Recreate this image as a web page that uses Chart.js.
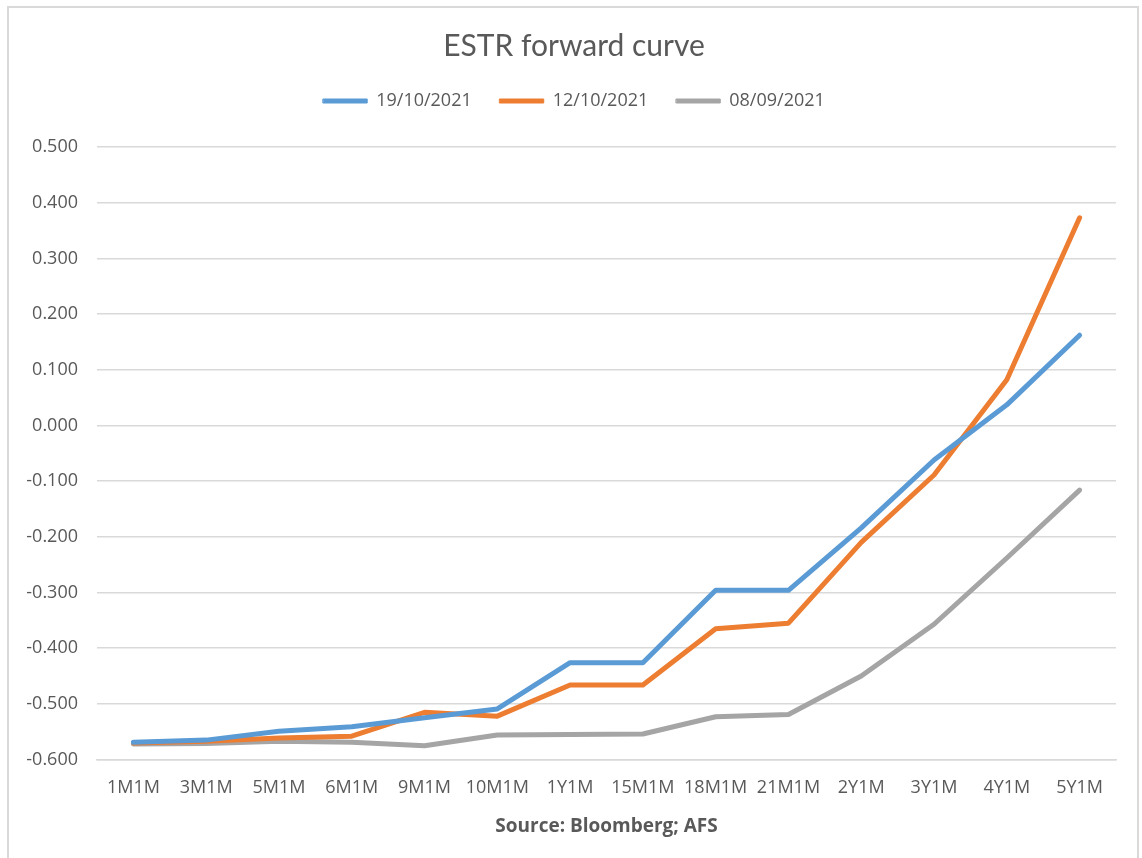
<!DOCTYPE html>
<html>
<head>
<meta charset="utf-8">
<script src="https://cdn.jsdelivr.net/npm/chart.js@4.4.1/dist/chart.umd.min.js"></script>
<style>
  html, body { margin: 0; padding: 0; background: #ffffff; }
  #wrap { position: relative; width: 1142px; height: 858px; }
  #frame { position: absolute; left: 7px; top: 6px; width: 1132px; height: 860px;
           border: 2px solid #d9d9d9; box-sizing: border-box; pointer-events: none; }
  canvas { position: absolute; left: 0; top: 0; }
</style>
</head>
<body>
<div id="wrap">
  <canvas id="c" width="1142" height="858"></canvas>
  <div id="frame"></div>
</div>
<script>
const categories = ["1M1M","3M1M","5M1M","6M1M","9M1M","10M1M","1Y1M","15M1M","18M1M","21M1M","2Y1M","3Y1M","4Y1M","5Y1M"];
const seriesNames = ["19/10/2021","12/10/2021","08/09/2021"];
const s19Oct = [-0.569,-0.565,-0.549,-0.541,-0.525,-0.509,-0.426,-0.426,-0.296,-0.296,-0.184,-0.062,0.037,0.162];
const s12Oct = [-0.570,-0.567,-0.561,-0.558,-0.515,-0.522,-0.466,-0.466,-0.365,-0.355,-0.210,-0.089,0.082,0.373];
const s08Sep = [-0.572,-0.571,-0.567,-0.569,-0.575,-0.556,-0.555,-0.554,-0.523,-0.519,-0.450,-0.357,-0.238,-0.116];
const yTicks = { min: -0.6, max: 0.5, step: 0.1 };
const colors = ["#5B9BD5","#ED7D31","#A5A5A5"];
const titleText = "ESTR forward curve";
const sourceText = "Source: Bloomberg; AFS";

const mk = (label, data, color) => ({
  label, data, borderColor: color, backgroundColor: color,
  borderWidth: 5, pointRadius: 0, pointHoverRadius: 0, tension: 0,
  borderCapStyle: 'round', borderJoinStyle: 'round', fill: false
});

const legendGap = {
  id: 'legendGap',
  beforeInit(chart) {
    const lg = chart.legend;
    if (!lg) return;
    const orig = lg.fit;
    lg.fit = function () { orig.call(this); this.height += 27; };
  }
};

new Chart(document.getElementById('c'), {
  type: 'line',
  data: {
    labels: categories,
    datasets: [
      mk(seriesNames[0], s19Oct, colors[0]),
      mk(seriesNames[1], s12Oct, colors[1]),
      mk(seriesNames[2], s08Sep, colors[2])
    ]
  },
  plugins: [legendGap],
  options: {
    responsive: false,
    animation: false,
    devicePixelRatio: 1,
    layout: { padding: { left: 6, right: 0, top: 0, bottom: 0 } },
    plugins: {
      title: {
        display: true, text: titleText, color: '#595959',
        font: { family: 'Lato', size: 30, weight: 'normal' },
        padding: { top: 28, bottom: 0 }
      },
      legend: {
        display: true, position: 'top',
        labels: {
          color: '#595959',
          font: { family: 'Open Sans', size: 18 },
          boxWidth: 44, boxHeight: 4, padding: 28,
          generateLabels(chart) {
            return chart.data.datasets.map((ds, i) => ({
              text: ds.label, fillStyle: ds.borderColor, strokeStyle: ds.borderColor,
              lineWidth: 1, lineCap: 'round', hidden: false, datasetIndex: i, fontColor: '#595959'
            }));
          }
        }
      },
      tooltip: { enabled: false }
    },
    scales: {
      x: {
        offset: true,
        grid: { display: false, drawTicks: false },
        border: { display: true, color: '#d9d9d9', width: 1.5 },
        ticks: { color: '#595959', font: { family: 'Open Sans', size: 18 }, padding: 17, maxRotation: 0, autoSkip: false },
        title: {
          display: true, text: sourceText, color: '#595959',
          font: { family: 'Open Sans', size: 19, weight: 'bold' },
          padding: { top: 0, bottom: 20 }
        }
      },
      y: {
        min: yTicks.min, max: yTicks.max,
        afterFit(scale) { scale.width = 91; },
        grid: { color: '#d9d9d9', lineWidth: 1.5, drawTicks: false },
        border: { display: false },
        ticks: {
          stepSize: yTicks.step, color: '#595959', padding: 19,
          font: { family: 'Open Sans', size: 18 },
          callback: v => (Math.round(v * 1000) / 1000).toFixed(3)
        }
      },
      yRight: {
        display: true, position: 'right',
        afterFit(scale) { scale.width = 26; },
        grid: { display: false, drawTicks: false },
        border: { display: false },
        ticks: { display: false }
      }
    }
  }
});
</script>
</body>
</html>
